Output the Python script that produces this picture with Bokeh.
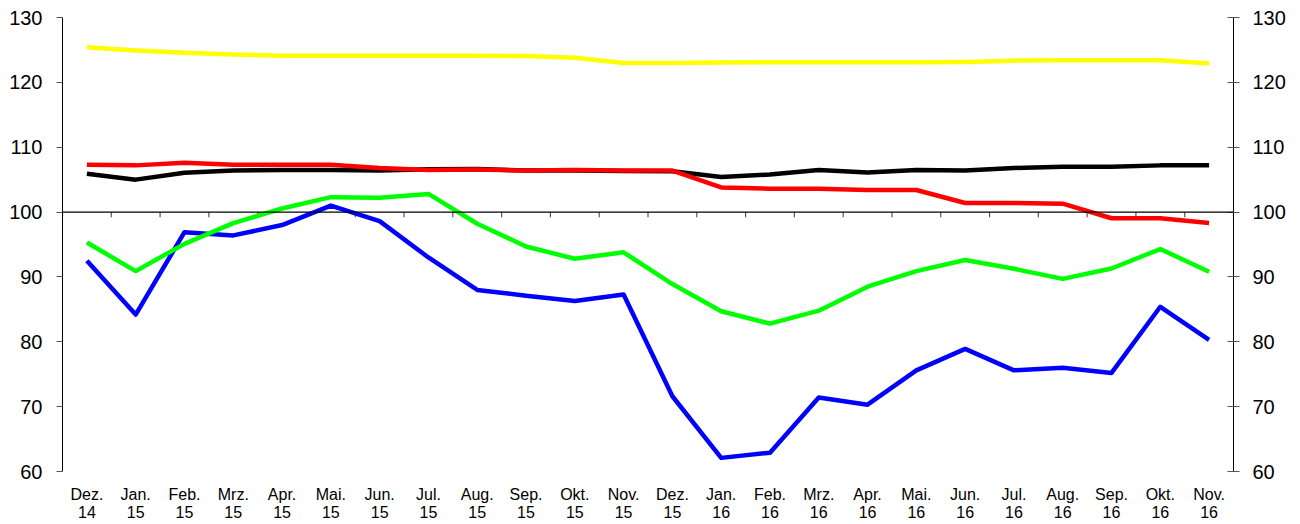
from bokeh.plotting import figure
from bokeh.models import Range1d, LinearAxis, FixedTicker, Span, ColumnDataSource
from bokeh.embed import file_html
from bokeh.resources import INLINE

months = ["Dez.", "Jan.", "Feb.", "Mrz.", "Apr.", "Mai.", "Jun.", "Jul.", "Aug.", "Sep.", "Okt.", "Nov.",
          "Dez.", "Jan.", "Feb.", "Mrz.", "Apr.", "Mai.", "Jun.", "Jul.", "Aug.", "Sep.", "Okt.", "Nov."]
years = ["14"] + ["15"] * 12 + ["16"] * 11

yellow = [125.4, 124.9, 124.55, 124.3, 124.1, 124.1, 124.1, 124.1, 124.1, 124.05, 123.8, 123.0,
          123.0, 123.05, 123.1, 123.1, 123.1, 123.1, 123.15, 123.35, 123.4, 123.4, 123.4, 122.9]
black = [105.9, 105.0, 106.05, 106.4, 106.5, 106.5, 106.4, 106.6, 106.65, 106.4, 106.4, 106.35,
         106.3, 105.4, 105.8, 106.5, 106.1, 106.5, 106.4, 106.8, 107.0, 107.0, 107.2, 107.2]
red = [107.3, 107.2, 107.6, 107.3, 107.3, 107.3, 106.8, 106.5, 106.55, 106.4, 106.5, 106.4,
       106.4, 103.8, 103.6, 103.6, 103.4, 103.4, 101.4, 101.4, 101.3, 99.05, 99.05, 98.3]
green = [95.3, 90.9, 95.1, 98.3, 100.55, 102.3, 102.2, 102.8, 98.2, 94.7, 92.8, 93.8,
         88.9, 84.7, 82.8, 84.8, 88.5, 90.9, 92.6, 91.25, 89.7, 91.3, 94.3, 90.8]
blue = [92.5, 84.2, 96.9, 96.4, 98.0, 101.0, 98.6, 93.0, 88.0, 87.1, 86.3, 87.3,
        71.6, 62.1, 62.9, 71.4, 70.3, 75.6, 78.9, 75.6, 76.0, 75.2, 85.4, 80.3]
y_ticks = [60, 70, 80, 90, 100, 110, 120, 130]

n = len(months)
xs = [i + 0.5 for i in range(n)]
labels = {x: f"{m}\n{y}" for x, m, y in zip(xs, months, years)}

FONT = "Liberation Sans"

p = figure(width=1300, height=524, output_backend="svg", toolbar_location=None,
           x_range=Range1d(0, n), y_range=Range1d(y_ticks[0], y_ticks[-1]),
           min_border_left=62, min_border_right=67, min_border_top=17, min_border_bottom=53)
p.outline_line_color = None
p.xgrid.visible = False
p.ygrid.visible = False
p.background_fill_color = "white"
p.border_fill_color = "white"

# bottom axis: labels only
xa = p.xaxis[0]
xa.ticker = FixedTicker(ticks=xs)
xa.major_label_overrides = labels
xa.axis_line_color = None
xa.major_tick_line_color = None
xa.minor_tick_line_color = None
xa.major_label_standoff = 8
xa.major_label_text_font = FONT
xa.major_label_text_font_size = "16px"
xa.major_label_text_line_height = 1.1
xa.major_label_text_color = "black"

# left axis
ya = p.yaxis[0]
ya.ticker = FixedTicker(ticks=y_ticks)
ya.axis_line_color = "black"
ya.major_tick_line_color = "#555555"
ya.major_tick_in = 0
ya.major_tick_out = 6
ya.minor_tick_line_color = None
ya.major_label_standoff = 14
ya.major_label_text_font = FONT
ya.major_label_text_font_size = "20px"
ya.major_label_text_color = "black"

# right axis
ra = LinearAxis(ticker=FixedTicker(ticks=y_ticks))
ra.axis_line_color = "black"
ra.major_tick_line_color = "#555555"
ra.major_tick_in = 6
ra.major_tick_out = 6
ra.minor_tick_line_color = None
ra.major_label_standoff = 13
ra.major_label_text_font = FONT
ra.major_label_text_font_size = "20px"
ra.major_label_text_color = "black"
p.add_layout(ra, "right")

# 100 baseline with category separators
p.add_layout(Span(location=100, dimension="width", line_color="black", line_width=1.2))
edges = list(range(n + 1))
p.segment(x0=edges, y0=[100] * len(edges), x1=edges, y1=[100 - 0.8] * len(edges),
          line_color="#555555", line_width=1.2)

src = ColumnDataSource(dict(x=xs, yellow=yellow, black=black, red=red, green=green, blue=blue))
for col, color in [("black", "#000000"), ("red", "#FF0000"), ("blue", "#0000FF"),
                   ("green", "#00FF00"), ("yellow", "#FFFF00")]:
    p.line("x", col, source=src, line_color=color, line_width=4.5, line_join="round")

open("out.html", "w").write(file_html(p, INLINE))
